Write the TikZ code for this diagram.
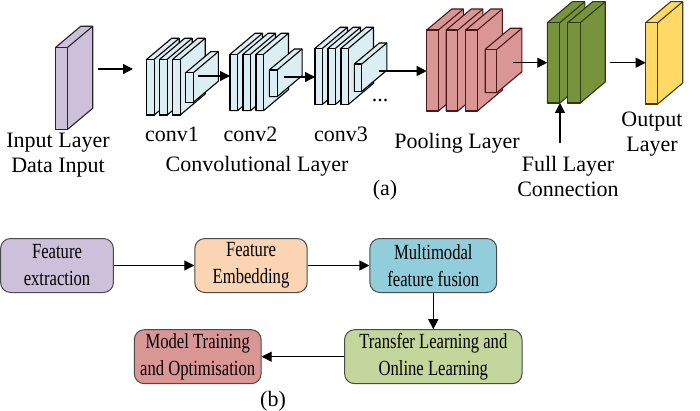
\documentclass[tikz,border=0pt]{standalone}
\usepackage{fontspec}
\setmainfont{Liberation Serif}
\newfontfamily\narrowserif[FakeStretch=0.77]{Liberation Serif}
\usetikzlibrary{arrows.meta}
\definecolor{inputfill}{HTML}{CCC0DA}
\definecolor{convfill}{HTML}{DAEEF3}
\definecolor{poolfill}{HTML}{D99694}
\definecolor{poolline}{HTML}{4A1A18}
\definecolor{fullfill}{HTML}{77933C}
\definecolor{fullline}{HTML}{2E3B12}
\definecolor{outfill}{HTML}{FFD966}
\definecolor{outline}{HTML}{4A3A00}
\definecolor{extrfill}{HTML}{CCC0DA}
\definecolor{embfill}{HTML}{FBD4B4}
\definecolor{fusfill}{HTML}{92CDDC}
\definecolor{tlfill}{HTML}{C3D69B}
\definecolor{trainfill}{HTML}{D99694}
\definecolor{boxline}{HTML}{4A4A4A}
\def\dpx{25}
\def\dpy{21}
\def\slab[#1](#2,#3)(#4,#5){\filldraw[#1] (#2,#3) -- ++(\dpx,-\dpy) -- ++(#4,0) -- ++(0,#5) -- ++(-\dpx,\dpy) -- ++(-#4,0) -- cycle; \draw[#1] (#2,#3) rectangle ++(#4,#5); \draw[#1] (#2+#4,#3) -- ++(\dpx,-\dpy);}

\begin{document}
\begin{tikzpicture}[x=0.5pt,y=-0.5pt,
	lbl/.style={font=\fontsize{11}{12.5}\selectfont, align=center, inner sep=0pt},
	arr/.style={line width=0.6pt, -{Triangle[length=5pt,width=5pt]}},
	inslab/.style={fill=inputfill, draw=black!85, line width=0.55pt, line join=round},
	convslab/.style={fill=convfill, draw=black, line width=0.55pt, line join=round},
	poolslab/.style={fill=poolfill, draw=poolline, line width=0.55pt, line join=round},
	fullslab/.style={fill=fullfill, draw=fullline, line width=0.55pt, line join=round},
	outslab/.style={fill=outfill, draw=outline, line width=0.55pt, line join=round},
	flowbox/.style={draw=boxline, line width=0.5pt, rounded corners=5pt, align=center, inner sep=0pt, minimum height=27pt, font=\narrowserif\fontsize{10.8}{13.5}\selectfont}]
			%%%%% START %%%%%
			\useasboundingbox (0,0) rectangle (700,411);
			
			% (a) network
			\slab[inslab](55.7,47.3)(12,82)
			\draw[arr] (98,69) -- (133,69);
			
			\foreach \i in {0,1,2} {\slab[convslab](146.7+13*\i,59.3)(7.5,55.7)}
			\slab[convslab](185.7,72.7)(7.6,29.6)
			\draw[arr] (198,76) -- (230,76);
			
			\foreach \i in {0,1,2} {\slab[convslab](230+13*\i,54.3)(7.5,56.4)}
			\slab[convslab](269.3,70)(7.8,26.7)
			\draw[arr] (284,77) -- (315,77);
			
			\foreach \i in {0,1,2} {\slab[convslab](315+13*\i,48.3)(7.5,56)}
			\slab[convslab](354.3,64)(7.5,27.3)
			\draw[arr] (379,71) -- (426.7,71);
			
			\foreach \i in {0,1,2} {\slab[poolslab](426.7+19.5*\i,30)(11.7,81)}
			\slab[poolslab](485.2,49.3)(11.7,43.4)
			\draw[arr] (512.7,62.7) -- (547.3,62.7);
			
			\slab[fullslab](547.3,22.7)(12.5,80.3)
			\slab[fullslab](567.7,22.7)(12.5,80.3)
			\draw[arr] (560,143) -- (560,103);
			\draw[arr] (610,62.7) -- (645.7,62.7);
			
			\slab[outslab](645.7,22.7)(12,81.3)
			
			\node[lbl] (inlbl) at (58,155) {Input Layer\\Data Input};
			\node[lbl] (c1lbl) at (172,134) {conv1};
			\node[lbl] (c2lbl) at (250.5,134) {conv2};
			\node[lbl] (c3lbl) at (341,134) {conv3};
			\node[lbl] (dots) at (380,101) {...};
			\node[lbl] (convlbl) at (257,166) {Convolutional Layer};
			\node[lbl] (poollbl) at (457,143) {Pooling Layer};
			\node[lbl] (fulllbl) at (568,176) {Full Layer\\Connection};
			\node[lbl] (outlbl) at (652,134) {Output\\Layer};
			\node[lbl] (alabel) at (385,190) {(a)};
			
			% (b) pipeline
			\node[flowbox, fill=extrfill, minimum width=56.4pt] (extr) at (57,265.5) {Feature\\extraction};
			\node[flowbox, fill=embfill, minimum width=56.2pt] (emb) at (251,265.5) {Feature\\Embedding};
			\node[flowbox, fill=fusfill, minimum width=63.4pt] (fus) at (433.3,265.5) {Multimodal\\feature fusion};
			\node[flowbox, fill=tlfill, minimum width=88.7pt] (tl) at (433.3,356.7) {Transfer Learning and\\Online Learning};
			\node[flowbox, fill=trainfill, minimum width=63.4pt] (train) at (197.7,356.7) {Model Training\\and Optimisation};
			\node[lbl] (blabel) at (273,401) {(b)};
			
			\draw[arr] (extr) -- (emb);
			\draw[arr] (emb) -- (fus);
			\draw[arr] (fus) -- (tl);
			\draw[arr] (tl) -- (train);
			%%%%% END %%%%%
\end{tikzpicture}
\end{document}
